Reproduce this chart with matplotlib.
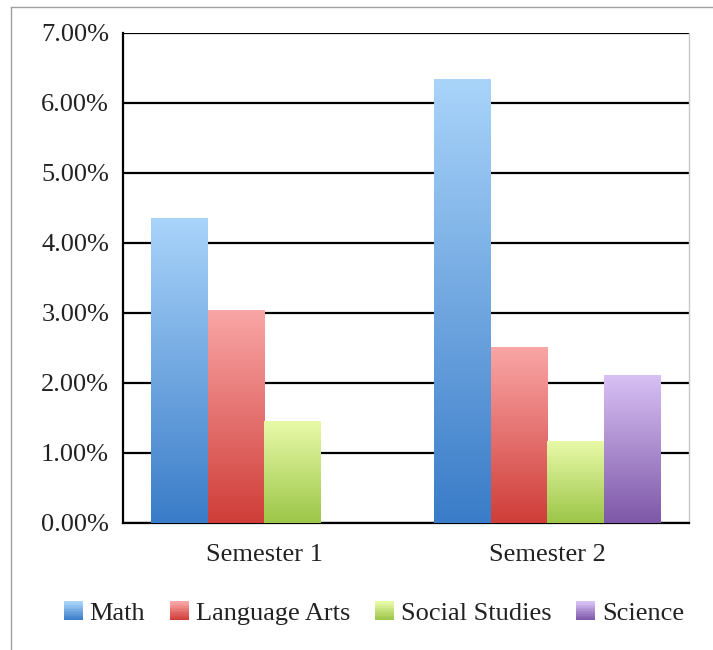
import numpy as np
import matplotlib
matplotlib.use("Agg")
import matplotlib.pyplot as plt
from matplotlib.colors import LinearSegmentedColormap
from matplotlib.legend_handler import HandlerBase
from matplotlib.patches import Rectangle, Patch
from matplotlib.lines import Line2D
from matplotlib.ticker import FuncFormatter

semesters = ["Semester 1", "Semester 2"]
subjects = ["Math", "Language Arts", "Social Studies", "Science"]
math = [4.35, 6.33]
lang_arts = [3.04, 2.51]
social = [1.45, 1.17]
science = [0.0, 2.10]

# top colour, bottom colour for each series
grads = [("#a9d4fa", "#3a7cc8"),
         ("#f9a6a6", "#cf3d38"),
         ("#e8f9a8", "#9cc648"),
         ("#d8c0f4", "#7e58a8")]

plt.rcParams['font.family'] = ['Liberation Serif', 'DejaVu Serif']
FS = 19


class GradHandler(HandlerBase):
    def __init__(self, top, bot, n=12):
        super().__init__()
        self.top, self.bot, self.n = top, bot, n

    def create_artists(self, legend, orig, xd, yd, w, h, fs, trans):
        cm = LinearSegmentedColormap.from_list("g", [self.bot, self.top])
        arts = []
        for i in range(self.n):
            r = Rectangle((xd, yd + h * i / self.n), w, h / self.n + 0.3,
                          facecolor=cm(i / (self.n - 1)), edgecolor="none",
                          transform=trans)
            arts.append(r)
        return arts


fig = plt.figure(figsize=(7.13, 6.5), dpi=100)
ax = fig.add_axes([0.1725, 0.1954, 0.9663 - 0.1725, 0.9498 - 0.1954])

x = np.arange(len(semesters))
width = 0.2
series = [math, lang_arts, social, science]

for i, vals in enumerate(series):
    pos = x + (i - 1.5) * width
    bars = ax.bar(pos, vals, width, color="none", edgecolor="none", zorder=3)
    cm = LinearSegmentedColormap.from_list("g%d" % i, [grads[i][1], grads[i][0]])
    grad = np.linspace(0, 1, 256).reshape(-1, 1)
    for b in bars:
        h = b.get_height()
        if h <= 0:
            continue
        x0 = b.get_x()
        ax.imshow(grad, cmap=cm, origin="lower", aspect="auto",
                  extent=[x0, x0 + width, 0, h], zorder=3,
                  interpolation="bilinear")

ax.set_xlim(-0.5, 1.5)
ax.set_ylim(0, 7)

ax.set_yticks(np.arange(0, 8, 1))
ax.yaxis.set_major_formatter(FuncFormatter(lambda v, p: "%.2f%%" % v))
ax.set_xticks(x)
ax.set_xticklabels(semesters)
ax.tick_params(axis="y", length=0, pad=10, labelsize=FS, colors="#222222")
ax.tick_params(axis="x", length=0, pad=15, labelsize=FS, colors="#222222")

ax.yaxis.grid(True, color="black", linewidth=1.6, zorder=1)
ax.set_axisbelow(True)
for s in ["left", "bottom"]:
    ax.spines[s].set_color("black")
    ax.spines[s].set_linewidth(1.6)
ax.spines["top"].set_visible(False)
ax.spines["right"].set_color("#c8c8c8")
ax.spines["right"].set_linewidth(1.0)

handles = [Patch(label=s) for s in subjects]
hmap = {h: GradHandler(t, b) for h, (t, b) in zip(handles, grads)}
fig.legend(handles=handles, labels=subjects, handler_map=hmap,
           loc="center", bbox_to_anchor=(0.5245, 0.056), ncol=4,
           frameon=False, fontsize=FS, handlelength=0.72, handleheight=0.72,
           handletextpad=0.25, columnspacing=0.95, labelcolor="#222222")

# outer frame (top and left edges visible)
fig.add_artist(Line2D([11 / 713, 1], [1 - 7 / 650, 1 - 7 / 650],
                      transform=fig.transFigure, color="#a0a0a0", lw=1))
fig.add_artist(Line2D([11 / 713, 11 / 713], [0, 1 - 7 / 650],
                      transform=fig.transFigure, color="#a0a0a0", lw=1))

fig.savefig("out.png", dpi=100)
